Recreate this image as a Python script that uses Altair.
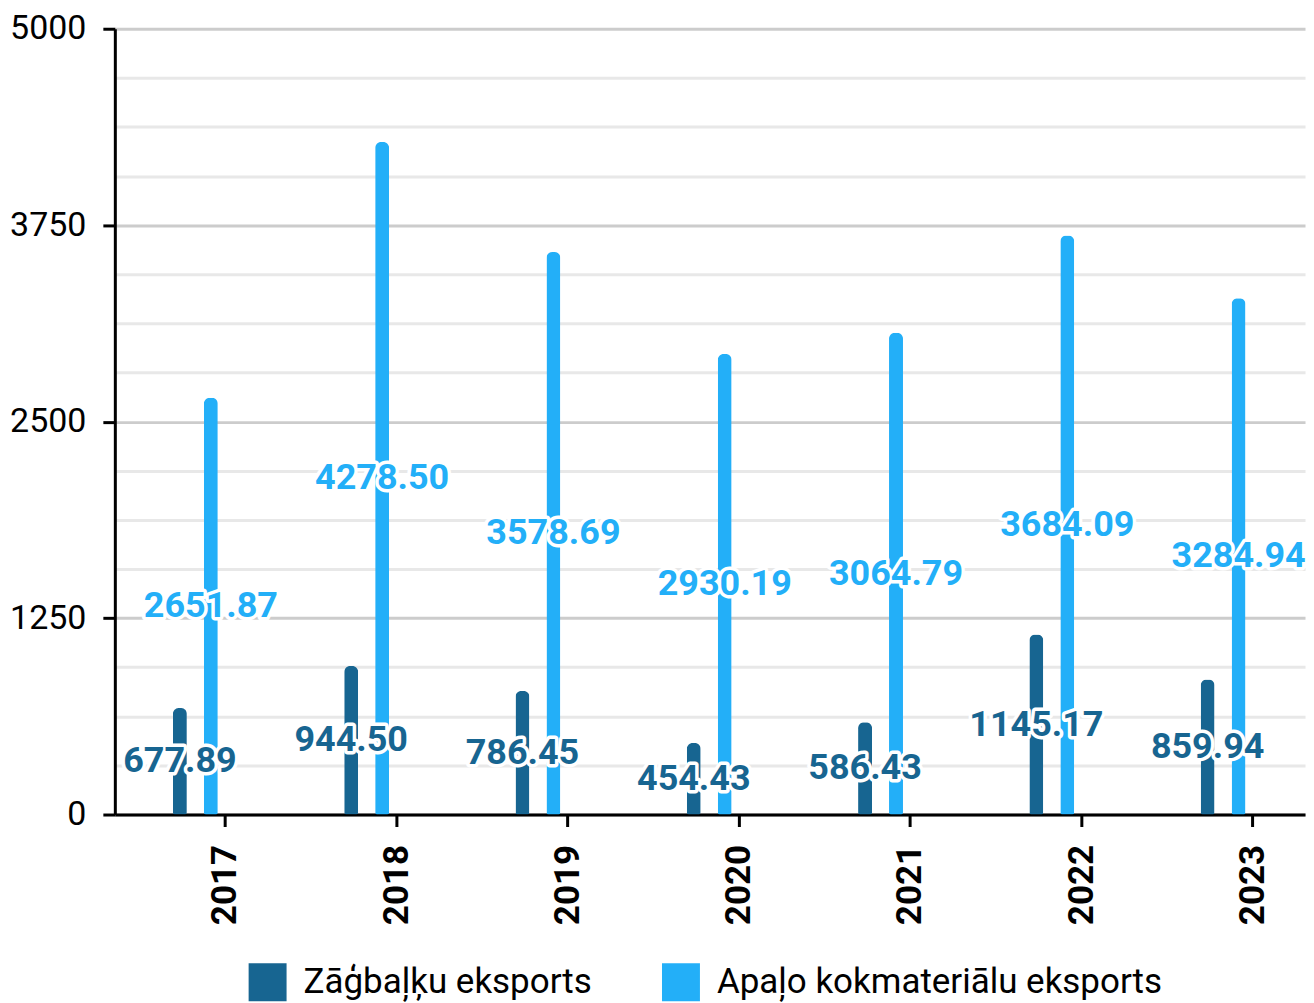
import altair as alt
import pandas as pd

years = [2017, 2018, 2019, 2020, 2021, 2022, 2023]
series_names = ["Zāģbaļķu eksports", "Apaļo kokmateriālu eksports"]
zagbalki = [677.89, 944.50, 786.45, 454.43, 586.43, 1145.17, 859.94]
apalo = [2651.87, 4278.50, 3578.69, 2930.19, 3064.79, 3684.09, 3284.94]
colors = ["#176591", "#23aff8"]
y_ticks = [i * 312.5 for i in range(17)]

df_dark = pd.DataFrame({"year": years, "value": zagbalki, "series": series_names[0]})
df_light = pd.DataFrame({"year": years, "value": apalo, "series": series_names[1]})

FONT = "Roboto"
major = "datum.value % 1250 === 0"

x_enc = alt.X(
    "year:Q",
    scale=alt.Scale(domain=[2016.387, 2023.277], nice=False, zero=False),
    axis=alt.Axis(
        values=years, format="d", labelAngle=-90, labelFontWeight="bold",
        labelFontSize=35, labelColor="#000000", labelFont=FONT,
        tickSize=12, tickWidth=3, tickColor="#000000",
        domainColor="#000000", domainWidth=3, grid=False, title=None,
        labelPadding=18,
    ),
)
y_enc = alt.Y(
    "value:Q",
    scale=alt.Scale(domain=[0, 5000], nice=False),
    axis=alt.Axis(
        values=y_ticks,
        labelExpr=f"{major} ? datum.label : ''",
        format="d",
        labelFontSize=34, labelColor="#000000", labelFont=FONT,
        labelPadding=17, tickSize=12, tickWidth=3, tickColor="#000000",
        tickOpacity={"condition": {"test": major, "value": 1}, "value": 0},
        domainColor="#000000", domainWidth=3,
        gridColor={"condition": {"test": major, "value": "#cccccc"}, "value": "#e8e8e8"},
        gridWidth=3, title=None,
    ),
)
color_enc = alt.Color(
    "series:N",
    scale=alt.Scale(domain=series_names, range=colors),
    legend=alt.Legend(
        orient="none", legendX=134, legendY=936, direction="horizontal", title=None,
        symbolType="square", symbolSize=1444, symbolStrokeWidth=0,
        labelFontSize=35, labelColor="#000000", labelFont=FONT,
        labelLimit=800, columnPadding=70, labelOffset=17,
    ),
)

def bars(df, off):
    return alt.Chart(df).mark_bar(
        xOffset=off, width=14, cornerRadiusTopLeft=6, cornerRadiusTopRight=6,
        cornerRadiusBottomLeft=2, cornerRadiusBottomRight=2,
    ).encode(x=x_enc, y=y_enc, color=color_enc)

def labels(df, off, col, halo):
    base = alt.Chart(df).transform_calculate(mid="datum.value / 2")
    kw = dict(xOffset=off, font=FONT, fontSize=36, fontWeight="bold",
              align="center", baseline="middle")
    if halo:
        m = base.mark_text(fill="#ffffff", stroke="#ffffff", strokeWidth=7,
                           strokeJoin="round", **kw)
    else:
        m = base.mark_text(fill=col, **kw)
    return m.encode(x=alt.X("year:Q"), y=alt.Y("mid:Q"),
                    text=alt.Text("value:Q", format=".2f"))

chart = alt.layer(
    bars(df_dark, -45),
    bars(df_light, -14),
    labels(df_dark, -45, colors[0], True),
    labels(df_dark, -45, colors[0], False),
    labels(df_light, -14, colors[1], True),
    labels(df_light, -14, colors[1], False),
).properties(
    width=1192, height=787,
    padding={"top": 3, "left": 1, "right": 0, "bottom": 0},
).configure_view(stroke=None)

chart.save("out.html", embed_options={"renderer": "svg", "actions": False})
